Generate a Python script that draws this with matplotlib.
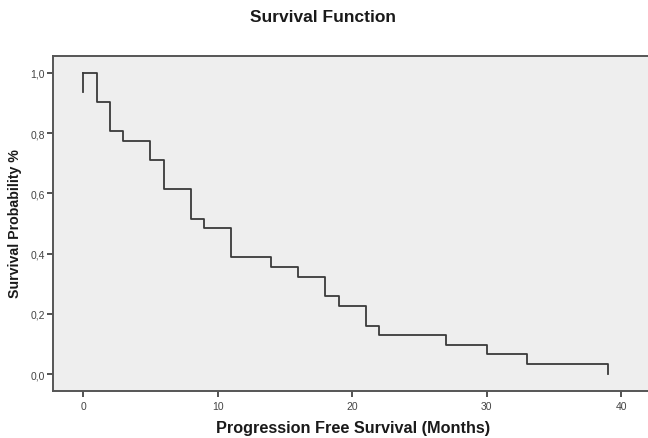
import numpy as np
import matplotlib
matplotlib.use("Agg")
import matplotlib.pyplot as plt

# Kaplan-Meier style step data
meses = [0, 1, 2, 3, 5, 6, 8, 9, 11, 14, 16, 18, 19, 21, 22, 27, 30, 33, 39]
sobrevida = [1.0, 0.903, 0.806, 0.774, 0.710, 0.613, 0.516, 0.484, 0.387,
             0.355, 0.323, 0.258, 0.226, 0.161, 0.129, 0.097, 0.065, 0.032, 0.0]
inicio = 0.935  # short start segment at month 0

x_ticks = [0, 10, 20, 30, 40]
y_ticks = [0.0, 0.2, 0.4, 0.6, 0.8, 1.0]
y_labels = ["0,0", "0,2", "0,4", "0,6", "0,8", "1,0"]

plt.rcParams['font.family'] = ['Liberation Sans', 'DejaVu Sans']

fig = plt.figure(figsize=(6.48, 4.39), dpi=100)
ax = fig.add_axes([0.0823, 0.1077, 0.9177, 0.7617])
ax.set_facecolor('#eeeeee')

cor = '#3a3a3a'
ax.plot([meses[0], meses[0]], [inicio, sobrevida[0]], color=cor, lw=1.3)
ax.step(meses, sobrevida, where='post', color=cor, lw=1.3)

ax.set_xlim(-2.21, 42.0)
ax.set_ylim(-0.0555, 1.055)
ax.set_xticks(x_ticks)
ax.set_yticks(y_ticks)
ax.set_yticklabels(y_labels)
ax.tick_params(direction='out', length=4, width=1.3, color='#444444',
               labelsize=7.5, labelcolor='#444444')
ax.tick_params(axis='x', pad=3.5)
ax.tick_params(axis='y', pad=2)

for lado in ['left', 'bottom', 'top']:
    ax.spines[lado].set_color('#555555')
    ax.spines[lado].set_linewidth(1.4)
ax.spines['right'].set_visible(False)

fig.text(323 / 648, 1 - 17 / 439, 'Survival Function', ha='center', va='center',
         fontsize=12.5, fontweight='bold', color='#1a1a1a')
fig.text(353 / 648, 1 - 429 / 439, 'Progression Free Survival (Months)', ha='center',
         va='center', fontsize=11.7, fontweight='bold', color='#1a1a1a')
fig.text(15 / 648, 1 - 224 / 439, 'Survival Probability %', ha='center', va='center',
         rotation=90, fontsize=10.2, fontweight='bold', color='#1a1a1a')

plt.savefig('out.png', dpi=100)
